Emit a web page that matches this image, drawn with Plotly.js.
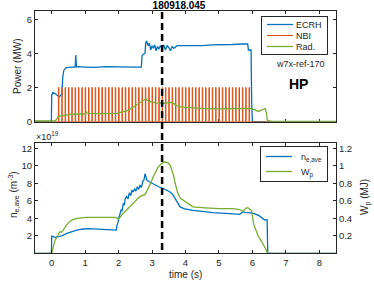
<!DOCTYPE html>
<html>
<head>
<meta charset="utf-8">
<script src="https://cdn.plot.ly/plotly-3.0.1.min.js"></script>
<style>html,body{margin:0;padding:0;background:#fff;}#chart{width:374px;height:284px;}</style>
</head>
<body>
<div id="chart"></div>
<script>
// ---- data ----
var ecrhT = [-0.5, -0.01, 0.0, 0.03, 0.1, 0.18, 0.22, 0.27, 0.3, 0.33, 0.36, 0.42, 0.55, 0.7, 0.72, 0.73, 0.74, 0.8, 1.0, 1.3, 1.6, 1.9, 2.2, 2.5, 2.68, 2.70, 2.74, 2.79, 2.81, 2.84, 2.88, 2.92, 2.96, 3.0, 3.04, 3.08, 3.12, 3.16, 3.2, 3.25, 3.3, 3.35, 3.4, 3.45, 3.5, 3.55, 3.6, 3.65, 3.75, 3.9, 4.2, 4.5, 4.8, 5.1, 5.4, 5.7, 5.86, 5.88, 5.96, 5.98, 6.0, 8.5];
var ecrhP = [0.02, 0.02, 1.55, 1.7, 1.65, 1.5, 1.45, 1.55, 1.6, 2.6, 3.0, 3.15, 3.2, 3.2, 3.9, 3.5, 3.2, 3.22, 3.2, 3.18, 3.22, 3.2, 3.18, 3.2, 3.2, 3.85, 3.95, 4.0, 4.65, 4.7, 4.45, 4.6, 4.2, 4.45, 4.3, 4.5, 4.15, 4.4, 4.25, 4.45, 4.3, 4.5, 4.2, 4.45, 4.35, 4.15, 4.4, 4.3, 4.45, 4.45, 4.48, 4.45, 4.5, 4.5, 4.52, 4.55, 4.55, 4.2, 4.2, 1.0, 0, 0];

var nbiStart = [0.2, 0.3, 0.4, 0.5, 0.6, 0.7, 0.8, 0.9, 1.0, 1.1, 1.2, 1.3, 1.4, 1.5, 1.6, 1.7, 1.8, 1.9, 2.0, 2.1, 2.2, 2.3, 2.4, 2.5, 2.6, 2.7, 2.8, 2.9, 3.0, 3.1, 3.2, 3.3, 3.4, 3.5, 3.6, 3.7, 3.8, 3.9, 4.0, 4.1, 4.2, 4.3, 4.4, 4.5, 4.6, 4.7, 4.8, 4.9, 5.0, 5.1, 5.2, 5.3, 5.4, 5.5, 5.6, 5.7, 5.8, 5.9];
var nbiLevel = 2.0;     // MW during each pulse
var nbiDuration = 0.015; // s, pulse length

var radT = [-0.5, 0.1, 0.15, 0.2, 0.25, 0.3, 0.4, 0.55, 0.8, 1.0, 1.03, 1.06, 1.15, 1.5, 1.94, 2.1, 2.24, 2.4, 2.54, 2.7, 2.79, 2.85, 2.94, 3.1, 3.24, 3.4, 3.54, 3.62, 3.74, 3.84, 4.0, 4.13, 4.5, 4.93, 5.3, 5.73, 5.93, 6.05, 6.18, 6.3, 6.38, 6.42, 6.45, 6.6, 8.5];
var radP = [0.04, 0.04, 0.15, 0.3, 0.33, 0.35, 0.4, 0.43, 0.45, 0.45, 0.58, 0.5, 0.49, 0.47, 0.49, 0.55, 0.64, 0.8, 0.98, 1.18, 1.31, 1.28, 1.17, 1.1, 1.07, 1.08, 1.13, 1.1, 0.94, 0.88, 0.84, 0.82, 0.78, 0.75, 0.76, 0.78, 0.78, 0.72, 0.6, 0.7, 0.78, 0.5, 0.06, 0.02, 0.02];

var neT = [-0.5, -0.01, 0.0, 0.03, 0.1, 0.2, 0.3, 0.45, 0.6, 0.75, 0.9, 1.05, 1.25, 1.44, 1.64, 1.84, 1.93, 1.95, 1.98, 2.01, 2.05, 2.08, 2.1, 2.14, 2.17, 2.2, 2.24, 2.28, 2.32, 2.36, 2.4, 2.44, 2.48, 2.52, 2.56, 2.6, 2.64, 2.68, 2.72, 2.76, 2.79, 2.84, 2.9, 3.04, 3.2, 3.34, 3.45, 3.54, 3.62, 3.69, 3.76, 3.84, 3.95, 4.13, 4.22, 4.5, 4.82, 5.2, 5.62, 5.72, 5.78, 6.02, 6.2, 6.37, 6.44, 6.46, 6.6, 8.5];
var neV = [0, 0, 1.95, 1.9, 1.83, 1.9, 2.0, 2.28, 2.5, 2.66, 2.75, 2.81, 2.8, 2.77, 2.72, 2.66, 2.65, 3.2, 3.5, 4.1, 4.5, 5.0, 4.8, 5.7, 5.5, 6.3, 6.5, 6.2, 6.9, 6.6, 7.2, 7.0, 7.4, 7.1, 7.6, 7.3, 7.8, 7.5, 8.2, 8.4, 9.1, 8.4, 8.2, 7.9, 7.6, 7.4, 7.2, 7.0, 6.7, 6.3, 5.9, 5.3, 5.1, 4.95, 4.9, 4.8, 4.64, 4.55, 4.45, 4.75, 4.68, 4.6, 4.3, 3.8, 3.85, 0, 0, 0];

var wpT = [-0.5, 0.0, 0.05, 0.1, 0.15, 0.2, 0.24, 0.27, 0.3, 0.4, 0.5, 0.6, 0.75, 1.05, 1.5, 1.9, 1.97, 2.0, 2.1, 2.2, 2.35, 2.5, 2.64, 2.79, 2.89, 2.96, 3.04, 3.12, 3.19, 3.27, 3.34, 3.42, 3.49, 3.55, 3.6, 3.65, 3.69, 3.76, 3.84, 3.99, 4.13, 4.22, 4.6, 5.0, 5.4, 5.62, 5.72, 5.82, 5.87, 5.97, 6.04, 6.1, 6.17, 6.25, 6.32, 6.4, 6.45, 6.6, 8.5];
var wpV = [0, 0, 0.08, 0.15, 0.18, 0.21, 0.245, 0.245, 0.24, 0.3, 0.35, 0.38, 0.4, 0.41, 0.41, 0.41, 0.4, 0.39, 0.44, 0.48, 0.54, 0.59, 0.65, 0.67, 0.74, 0.8, 0.88, 0.95, 0.99, 1.02, 1.04, 1.04, 1.03, 1.0, 0.95, 0.88, 0.8, 0.7, 0.63, 0.59, 0.55, 0.53, 0.52, 0.51, 0.51, 0.5, 0.48, 0.52, 0.52, 0.49, 0.33, 0.26, 0.2, 0.15, 0.11, 0.05, 0, 0, 0];

var markerTime = 3.3;      // s, dashed vertical line
var shotLabel = '180918.045';
var xTicks = [0, 1, 2, 3, 4, 5, 6, 7, 8];
var powerTicks = [0, 2, 4, 6];
var neTicks = [2, 4, 6, 8, 10, 12];
var wpTicks = [0.2, 0.4, 0.6, 0.8, 1, 1.2];

// ---- build NBI pulse train from the read pulse starts ----
var nbiT = [-0.5], nbiP = [0];
nbiStart.forEach(function (s) {
  nbiT.push(s, s, s + nbiDuration, s + nbiDuration);
  nbiP.push(0, nbiLevel, nbiLevel, 0);
});
nbiT.push(8.5); nbiP.push(0);

var BLUE = '#0072BD', ORANGE = '#D95319', GREEN = '#77AC30', AX = '#262626';
var FONT = 'Liberation Sans, Arial, Helvetica, sans-serif';
var W = 374, H = 284;
function px(x) { return x / W; }
function py(y) { return 1 - y / H; }

var data = [
  {x: ecrhT, y: ecrhP, type: 'scatter', mode: 'lines', name: 'ECRH', line: {color: BLUE, width: 1.3}, xaxis: 'x', yaxis: 'y', legend: 'legend'},
  {x: nbiT, y: nbiP, type: 'scatter', mode: 'lines', name: 'NBI', line: {color: ORANGE, width: 1}, xaxis: 'x', yaxis: 'y', legend: 'legend'},
  {x: radT, y: radP, type: 'scatter', mode: 'lines', name: 'Rad.', line: {color: GREEN, width: 1.3}, xaxis: 'x', yaxis: 'y', legend: 'legend'},
  {x: neT, y: neV, type: 'scatter', mode: 'lines', name: 'n<sub>e,ave</sub>', line: {color: BLUE, width: 1.3}, xaxis: 'x2', yaxis: 'y2', legend: 'legend2'},
  {x: wpT, y: wpV, type: 'scatter', mode: 'lines', name: 'W<sub>p</sub>', line: {color: GREEN, width: 1.3}, xaxis: 'x2', yaxis: 'y3', legend: 'legend2'}
];

var xDom = [px(35), px(336)];
var axBase = {showgrid: false, zeroline: false, showline: true, linecolor: AX, linewidth: 1,
  ticks: 'inside', ticklen: 3, tickwidth: 1, tickcolor: AX,
  tickfont: {family: FONT, size: 9.5, color: AX}, fixedrange: true};
function ax(o) { return Object.assign({}, axBase, o); }

var layout = {
  width: W, height: H,
  margin: {l: 0, r: 0, t: 0, b: 0, pad: 0},
  paper_bgcolor: '#fff', plot_bgcolor: '#fff',
  font: {family: FONT, size: 9.5, color: AX},
  title: {text: shotLabel, font: {family: FONT, size: 10, color: '#000', weight: 'bold'},
    x: px(179), xref: 'container', xanchor: 'center', y: 1 - 5.5 / H, yref: 'container', yanchor: 'middle'},
  xaxis: ax({domain: xDom, anchor: 'y', range: [-0.5, 8.5], tickvals: xTicks, showticklabels: false, mirror: 'ticks', layer: 'below traces'}),
  yaxis: ax({domain: [py(121.7), py(10.7)], anchor: 'x', range: [0, 6.5], tickvals: powerTicks, mirror: 'ticks'}),
  xaxis2: ax({domain: xDom, anchor: 'y2', range: [-0.5, 8.5], tickvals: xTicks, mirror: 'ticks'}),
  yaxis2: ax({domain: [py(253.3), py(143)], anchor: 'x2', range: [0, 12.6], tickvals: neTicks, side: 'left'}),
  yaxis3: ax({overlaying: 'y2', anchor: 'x2', side: 'right', range: [0, 1.26], tickvals: wpTicks}),
  showlegend: true,
  legend: {x: px(328), xanchor: 'right', y: py(16), yanchor: 'top', xref: 'paper', yref: 'paper',
    bgcolor: '#fff', bordercolor: AX, borderwidth: 1, font: {family: FONT, size: 9, color: AX}, tracegroupgap: 0},
  legend2: {x: px(328), xanchor: 'right', y: py(146), yanchor: 'top', xref: 'paper', yref: 'paper',
    bgcolor: '#fff', bordercolor: AX, borderwidth: 1, font: {family: FONT, size: 9, color: AX}, tracegroupgap: 0},
  shapes: [
    {type: 'line', xref: 'x', yref: 'paper', x0: markerTime, x1: markerTime, y0: py(250), y1: py(11),
      line: {color: '#000', width: 2.5, dash: '7px,4px'}, layer: 'above'}
  ],
  annotations: [
    {text: 'Power (MW)', xref: 'paper', yref: 'paper', x: px(17), y: py(66), textangle: -90, showarrow: false,
      xanchor: 'center', yanchor: 'middle', font: {family: FONT, size: 10, color: AX}},
    {text: 'n<sub>e,ave</sub> (m<sup>-3</sup>)', xref: 'paper', yref: 'paper', x: px(13), y: py(195), textangle: -90, showarrow: false,
      xanchor: 'center', yanchor: 'middle', font: {family: FONT, size: 10, color: AX}},
    {text: 'W<sub>p</sub> (MJ)', xref: 'paper', yref: 'paper', x: px(365), y: py(197), textangle: -90, showarrow: false,
      xanchor: 'center', yanchor: 'middle', font: {family: FONT, size: 10, color: AX}},
    {text: '\u00d710<sup>19</sup>', xref: 'paper', yref: 'paper', x: px(34), y: py(136), showarrow: false,
      xanchor: 'left', yanchor: 'middle', font: {family: FONT, size: 9, color: AX}},
    {text: 'time (s)', xref: 'paper', yref: 'paper', x: px(185), y: py(274), showarrow: false,
      xanchor: 'center', yanchor: 'middle', font: {family: FONT, size: 10, color: AX}},
    {text: 'w7x-ref-170', xref: 'paper', yref: 'paper', x: px(300), y: py(64), showarrow: false,
      xanchor: 'center', yanchor: 'middle', font: {family: FONT, size: 9, color: AX}},
    {text: 'HP', xref: 'paper', yref: 'paper', x: px(298), y: py(84), showarrow: false,
      xanchor: 'center', yanchor: 'middle', font: {family: FONT, size: 14, color: '#000', weight: 'bold'}}
  ]
};

var gd = document.getElementById('chart');

// Make Plotly's legend look like the compact MATLAB legend (shorter samples, tighter rows)
function compactLegend(cls, step, lineLen) {
  var lg = gd.querySelector('g.' + cls);
  if (!lg) return;
  var items = lg.querySelectorAll('g.traces');
  if (items.length < 1) return;
  var bw = 1, pad = 2;
  var xs = [];
  items.forEach(function (it) {
    var m = /translate\(\s*([-\d.e]+)[ ,]+([-\d.e]+)\s*\)/.exec(it.getAttribute('transform') || '');
    xs.push(m ? parseFloat(m[1]) : 0);
  });
  var textShift = 0;
  items.forEach(function (it, i) {
    it.setAttribute('transform', 'translate(' + xs[i] + ',' + (bw + pad + step / 2 + i * step) + ')');
    it.querySelectorAll('path.js-line').forEach(function (p) { p.setAttribute('d', 'M5,0h' + lineLen); });
    var t = it.querySelector('text.legendtext');
    if (t) {
      var ox = parseFloat(t.getAttribute('x')) || 40;
      var nx = 5 + lineLen + 3;
      textShift = ox - nx;
      t.setAttribute('x', nx);
      t.querySelectorAll('tspan[x]').forEach(function (ts) {
        var v = parseFloat(ts.getAttribute('x'));
        if (!isNaN(v)) ts.setAttribute('x', v - textShift);
      });
    }
  });
  var newH = 2 * bw + 2 * pad + items.length * step;
  var bg = lg.querySelector('rect.bg');
  if (bg) {
    var w = parseFloat(bg.getAttribute('width'));
    bg.setAttribute('height', newH - bw);
    bg.style.height = (newH - bw) + 'px';
    if (!isNaN(w) && textShift > 0) {
      bg.setAttribute('width', w - textShift);
      bg.style.width = (w - textShift) + 'px';
    }
  }
  // keep the right edge fixed
  var m2 = /translate\(\s*([-\d.e]+)[ ,]+([-\d.e]+)\s*\)/.exec(lg.getAttribute('transform') || '');
  if (m2 && textShift > 0) {
    lg.setAttribute('transform', 'translate(' + (parseFloat(m2[1]) + textShift) + ',' + m2[2] + ')');
  }
}

Plotly.newPlot(gd, data, layout, {displayModeBar: false, staticPlot: true}).then(function () {
  compactLegend('legend', 11, 26);
  compactLegend('legend2', 15, 26);
});
</script>
</body>
</html>
